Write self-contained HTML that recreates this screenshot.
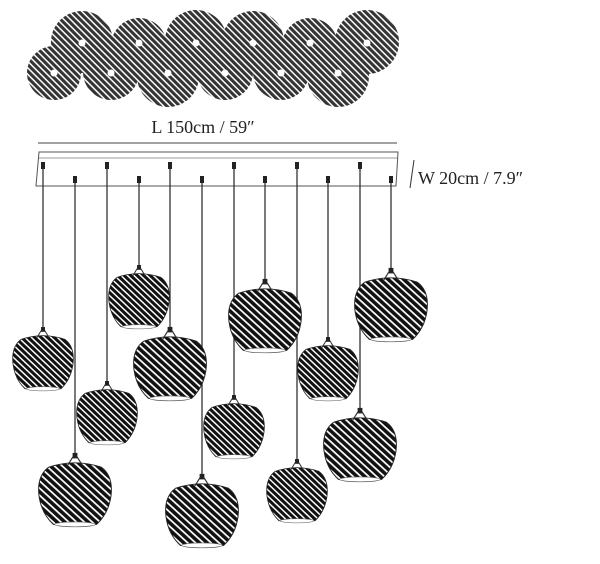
<!DOCTYPE html>
<html><head><style>body{margin:0;background:#fff}svg{display:block}</style></head><body>
<svg width="600" height="564" viewBox="0 0 600 564" xmlns="http://www.w3.org/2000/svg">
<defs>
<pattern id="h" patternUnits="userSpaceOnUse" width="4.6" height="4.6" patternTransform="rotate(45)">
<rect width="4.6" height="4.6" fill="#111"/><rect width="4.6" height="1.5" fill="#fff"/>
</pattern>
<g id="lamp">
<path d="M-22,-28 Q0,-36 22,-28 Q32,-20 30,-2 Q28,14 18,24 L-18,24 Q-28,14 -30,-2 Q-32,-20 -22,-28Z" fill="url(#h)" stroke="#222" stroke-width="0.8"/>
<ellipse cx="0" cy="24" rx="17" ry="2.2" fill="#fff" stroke="#555" stroke-width="0.6"/>
<path d="M-6,-30 L-2,-37 L2,-37 L6,-30" fill="none" stroke="#333" stroke-width="1"/>
<rect x="-2" y="-41" width="4" height="5" fill="#222"/>
</g>
</defs>
<g opacity="0.85">
<circle cx="82" cy="42" r="31" fill="url(#h)"/>
<circle cx="139" cy="46" r="28" fill="url(#h)"/>
<circle cx="196" cy="41" r="31" fill="url(#h)"/>
<circle cx="253" cy="42" r="31" fill="url(#h)"/>
<circle cx="310" cy="46" r="28" fill="url(#h)"/>
<circle cx="367" cy="42" r="32" fill="url(#h)"/>
<circle cx="54" cy="73" r="27" fill="url(#h)"/>
<circle cx="111" cy="72" r="28" fill="url(#h)"/>
<circle cx="168" cy="76" r="31" fill="url(#h)"/>
<circle cx="225" cy="72" r="28" fill="url(#h)"/>
<circle cx="281" cy="72" r="28" fill="url(#h)"/>
<circle cx="338" cy="76" r="31" fill="url(#h)"/>
</g>
<g fill="#fff"><circle cx="82" cy="43" r="3.5"/><circle cx="139" cy="43" r="3.5"/><circle cx="196" cy="43" r="3.5"/><circle cx="253" cy="43" r="3.5"/><circle cx="310" cy="43" r="3.5"/><circle cx="367" cy="43" r="3.5"/><circle cx="54" cy="73" r="3.5"/><circle cx="111" cy="73" r="3.5"/><circle cx="168" cy="73" r="3.5"/><circle cx="225" cy="73" r="3.5"/><circle cx="281" cy="73" r="3.5"/><circle cx="338" cy="73" r="3.5"/></g>
<text x="203" y="133" font-family="Liberation Serif, serif" font-size="18" text-anchor="middle" fill="#222">L 150cm / 59″</text>
<line x1="38" y1="143" x2="397" y2="143" stroke="#444" stroke-width="1"/>
<path d="M39,152 L398,152 L396,186 L36,186 Z" fill="none" stroke="#555" stroke-width="1"/>
<line x1="39" y1="158" x2="398" y2="158" stroke="#777" stroke-width="0.8"/>
<line x1="414" y1="160" x2="410" y2="188" stroke="#333" stroke-width="1"/>
<text x="418" y="184" font-family="Liberation Serif, serif" font-size="18" fill="#222">W 20cm / 7.9″</text>
<g stroke="#333" stroke-width="1.3">
<line x1="43" y1="166" x2="43" y2="328"/><line x1="75" y1="180" x2="75" y2="458"/>
<line x1="107" y1="166" x2="107" y2="382"/><line x1="139" y1="180" x2="139" y2="266"/>
<line x1="170" y1="166" x2="170" y2="330"/><line x1="202" y1="180" x2="202" y2="476"/>
<line x1="234" y1="166" x2="234" y2="396"/><line x1="265" y1="180" x2="265" y2="282"/>
<line x1="297" y1="166" x2="297" y2="460"/><line x1="328" y1="180" x2="328" y2="338"/>
<line x1="360" y1="166" x2="360" y2="410"/><line x1="391" y1="180" x2="391" y2="270"/>
</g>
<g fill="#222"><rect x="41" y="162" width="4" height="7"/><rect x="73" y="176" width="4" height="7"/><rect x="105" y="162" width="4" height="7"/><rect x="137" y="176" width="4" height="7"/><rect x="168" y="162" width="4" height="7"/><rect x="200" y="176" width="4" height="7"/><rect x="232" y="162" width="4" height="7"/><rect x="263" y="176" width="4" height="7"/><rect x="295" y="162" width="4" height="7"/><rect x="326" y="176" width="4" height="7"/><rect x="358" y="162" width="4" height="7"/><rect x="389" y="176" width="4" height="7"/></g>
<use href="#lamp" transform="translate(43,366) scale(1,0.95)"/>
<use href="#lamp" transform="translate(75,498) scale(1.2,1.1)"/>
<use href="#lamp" transform="translate(107,420) scale(1,0.95)"/>
<use href="#lamp" transform="translate(139,304) scale(1,0.95)"/>
<use href="#lamp" transform="translate(170,372) scale(1.2,1.1)"/>
<use href="#lamp" transform="translate(202,519) scale(1.2,1.1)"/>
<use href="#lamp" transform="translate(234,434) scale(1,0.95)"/>
<use href="#lamp" transform="translate(265,324) scale(1.2,1.1)"/>
<use href="#lamp" transform="translate(297,498) scale(1,0.95)"/>
<use href="#lamp" transform="translate(328,376) scale(1,0.95)"/>
<use href="#lamp" transform="translate(360,453) scale(1.2,1.1)"/>
<use href="#lamp" transform="translate(391,313) scale(1.2,1.1)"/>
</svg>
</body></html>
